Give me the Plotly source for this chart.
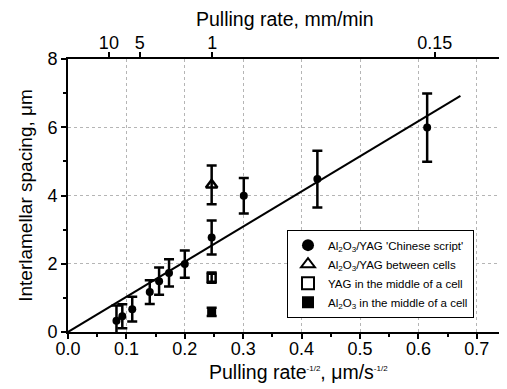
import numpy as np
import plotly.graph_objects as go

# Al2O3/YAG 'Chinese script'
cs_x = [0.083, 0.093, 0.110, 0.140, 0.156, 0.173, 0.200, 0.246, 0.301, 0.427, 0.615]
cs_y = [0.33, 0.46, 0.67, 1.17, 1.49, 1.73, 1.99, 2.77, 3.99, 4.48, 5.99]
cs_err = [0.45, 0.35, 0.36, 0.35, 0.40, 0.40, 0.40, 0.50, 0.52, 0.83, 1.00]

# Al2O3/YAG between cells
bc_x = [0.246]
bc_y = [4.31]
bc_err = [0.57]

# YAG in the middle of a cell
yag_x = [0.246]
yag_y = [1.59]
yag_err = [0.15]

# Al2O3 in the middle of a cell
al_x = [0.246]
al_y = [0.59]
al_err = [0.12]

# linear fit
fit_x = [0.0, 0.672]
fit_y = [0.0, 6.92]

# top axis (pulling rate, mm/min)
top_pos = [0.070, 0.123, 0.247, 0.628]
top_labels = ["10", "5", "1", "0.15"]

FONT = "Liberation Sans, Arial, sans-serif"
TICK = 18
TITLE = 19.5

fig = go.Figure()

fig.add_trace(go.Scatter(x=fit_x, y=fit_y, mode="lines",
                         line=dict(color="black", width=2),
                         showlegend=False, hoverinfo="skip"))

eb = dict(type="data", visible=True, color="black", thickness=2.5, width=5)

fig.add_trace(go.Scatter(
    x=cs_x, y=cs_y, mode="markers",
    name="Al<sub>2</sub>O<sub>3</sub>/YAG 'Chinese script'",
    marker=dict(symbol="circle", size=8, color="black"),
    error_y=dict(array=cs_err, **eb)))

fig.add_trace(go.Scatter(
    x=bc_x, y=bc_y, mode="markers",
    name="Al<sub>2</sub>O<sub>3</sub>/YAG between cells",
    marker=dict(symbol="triangle-up-open", size=10, color="black",
                line=dict(width=2.5, color="black")),
    error_y=dict(array=bc_err, **eb)))

fig.add_trace(go.Scatter(
    x=yag_x, y=yag_y, mode="markers",
    name="YAG in the middle of a cell",
    marker=dict(symbol="square-open", size=8, color="black",
                line=dict(width=2.5, color="black")),
    error_y=dict(array=yag_err, **eb)))

fig.add_trace(go.Scatter(
    x=al_x, y=al_y, mode="markers",
    name="Al<sub>2</sub>O<sub>3</sub> in the middle of a cell",
    marker=dict(symbol="square", size=9, color="black"),
    error_y=dict(array=al_err, **eb)))

# invisible trace to anchor the top axis
fig.add_trace(go.Scatter(x=top_pos, y=[np.nan] * len(top_pos), xaxis="x2",
                         mode="markers", showlegend=False, hoverinfo="skip"))

SUP = "<sup><span style='font-size:8px'>-1/2</span></sup>"

# page body has an 8px margin, so the figure is sized/offset to compensate
fig.update_layout(
    width=499, height=381,
    margin=dict(l=60, r=1, t=51, b=57, autoexpand=False),
    paper_bgcolor="white", plot_bgcolor="white",
    font=dict(family=FONT, color="black", size=TICK),
    xaxis=dict(
        range=[0, 0.75], tick0=0, dtick=0.1, tickformat=".1f",
        ticks="outside", ticklen=5, tickwidth=1.5, tickcolor="black",
        minor=dict(dtick=0.05, ticks="outside", ticklen=3, tickcolor="black", showgrid=False),
        showline=True, linecolor="black", linewidth=1.5, mirror=True,
        showgrid=True, gridcolor="#b5b5b5", griddash="dot", gridwidth=1,
        zeroline=False, automargin=False, ticklabelstandoff=-5,
        tickfont=dict(size=TICK),
    ),
    xaxis2=dict(
        overlaying="x", side="top", range=[0, 0.75],
        tickmode="array", tickvals=top_pos, ticktext=top_labels,
        ticks="outside", ticklen=5, tickwidth=1.5, tickcolor="black",
        showline=True, linecolor="black", linewidth=1.5,
        showgrid=False, zeroline=False, automargin=False, ticklabelstandoff=-4,
        tickfont=dict(size=TICK),
    ),
    yaxis=dict(
        range=[0, 8], tick0=0, dtick=2,
        ticks="outside", ticklen=5, tickwidth=1.5, tickcolor="black",
        minor=dict(dtick=1, ticks="outside", ticklen=3, tickcolor="black", showgrid=False),
        showline=True, linecolor="black", linewidth=2, mirror=True,
        showgrid=True, gridcolor="#b5b5b5", griddash="dot", gridwidth=1,
        zeroline=False, automargin=False,
        tickfont=dict(size=TICK),
        title=dict(text="Interlamellar spacing, μm", font=dict(size=19), standoff=10),
    ),
    legend=dict(
        x=0.50, y=0.375, xanchor="left", yanchor="top",
        bgcolor="white", bordercolor="black", borderwidth=1,
        font=dict(size=11.5, family=FONT),
        tracegroupgap=0, itemsizing="constant",
    ),
    annotations=[
        dict(text="Pulling rate, mm/min", xref="paper", yref="paper",
             x=0.495, y=1.1465, xanchor="center", yanchor="middle",
             showarrow=False, font=dict(size=TITLE)),
        dict(text="Pulling rate" + SUP + ", μm/s" + SUP,
             xref="paper", yref="paper",
             x=0.527, y=-0.146, xanchor="center", yanchor="middle",
             showarrow=False, font=dict(size=TITLE)),
    ],
)

fig.write_html("out.html")
